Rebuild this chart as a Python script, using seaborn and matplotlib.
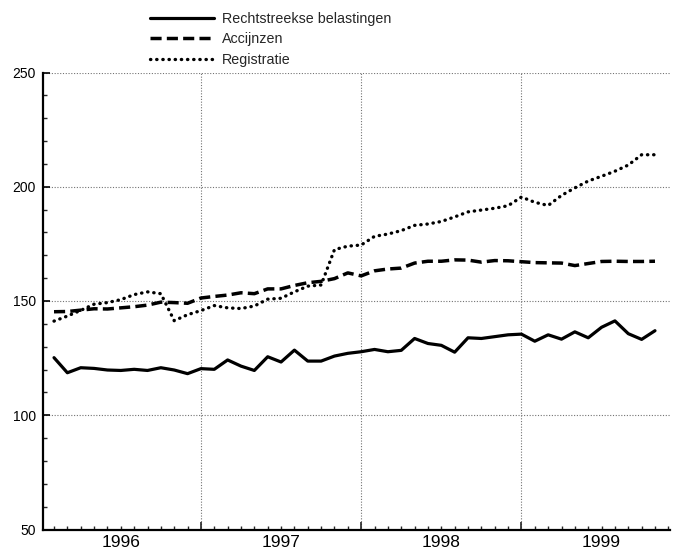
import numpy as np
import pandas as pd
import matplotlib
matplotlib.use('Agg')
import matplotlib.pyplot as plt
import seaborn as sns

sns.set_style('white')
plt.rcParams['font.family'] = ['Liberation Sans', 'DejaVu Sans']

# maandcijfers januari 1996 - oktober 1999
jaren = [1996, 1997, 1998, 1999]
maanden = np.arange(1, 47)  # 1 = januari 1996

rechtstreeks = [125.2, 118.6, 120.8, 120.5, 119.8, 119.6, 120.1, 119.6, 120.8, 119.8, 118.2, 120.4,
                120.1, 124.2, 121.5, 119.6, 125.6, 123.3, 128.5, 123.7, 123.7, 125.9, 127.1, 127.8,
                128.8, 127.8, 128.4, 133.6, 131.4, 130.6, 127.6, 133.9, 133.6, 134.4, 135.2, 135.5,
                132.4, 135.2, 133.3, 136.5, 133.9, 138.5, 141.3, 135.7, 133.2, 137.0]
accijnzen = [145.3, 145.4, 146.0, 146.6, 146.5, 147.0, 147.5, 148.2, 149.5, 149.3, 149.0, 151.3,
             152.0, 152.6, 153.6, 153.2, 155.3, 155.3, 156.8, 158.0, 158.6, 159.8, 162.3, 161.0,
             163.2, 164.0, 164.4, 166.6, 167.4, 167.4, 168.0, 167.9, 167.0, 167.7, 167.6, 167.2,
             166.8, 166.7, 166.6, 165.5, 166.4, 167.3, 167.4, 167.3, 167.3, 167.4]
registratie = [141.2, 143.4, 145.9, 148.6, 149.3, 150.6, 152.8, 154.0, 153.2, 141.4, 144.0, 145.8,
               148.0, 147.0, 146.7, 147.8, 150.8, 151.2, 154.0, 156.5, 157.0, 172.5, 174.0, 174.5,
               178.3, 179.3, 180.8, 183.1, 183.7, 184.8, 186.8, 189.0, 189.8, 190.6, 191.7, 195.5,
               193.2, 191.8, 196.2, 199.5, 202.5, 204.6, 206.8, 209.5, 214.0, 214.0]

df = pd.DataFrame({
    'x': 1996 + maanden / 12,
    'Rechtstreekse belastingen': rechtstreeks,
    'Accijnzen': accijnzen,
    'Registratie': registratie,
})

fig = plt.figure(figsize=(6.74, 5.49), dpi=100)
ax = fig.add_axes([43 / 674, 1 - 529.5 / 549, (670 - 43) / 674, 457 / 549])

sns.lineplot(data=df, x='x', y='Rechtstreekse belastingen', ax=ax, color='black',
             linewidth=2.3, label='Rechtstreekse belastingen')
sns.lineplot(data=df, x='x', y='Accijnzen', ax=ax, color='black', linewidth=2.5,
             linestyle=(0, (3.2, 1.5)), label='Accijnzen')
sns.lineplot(data=df, x='x', y='Registratie', ax=ax, color='black', linewidth=2.4,
             linestyle=(0, (0.1, 1.75)), dash_capstyle='round', label='Registratie')

ax.set_xlim(1996.0146, 1999.927)
ax.set_ylim(50, 250)
ax.set_xlabel('')
ax.set_ylabel('')

# assen
for s in ['top', 'right']:
    ax.spines[s].set_visible(False)
for s in ['left', 'bottom']:
    ax.spines[s].set_color('black')
    ax.spines[s].set_linewidth(1.6)

ax.set_yticks([50, 100, 150, 200, 250])
ax.set_yticks(np.arange(50, 251, 10), minor=True)
ax.set_xticks(jaren[1:])
ax.set_xticklabels([])
ax.set_xticks(1996 + np.arange(1, 48) / 12, minor=True)
ax.tick_params(axis='y', which='major', direction='in', length=5, width=1.2, pad=5,
               labelsize=10, colors='black', left=True)
ax.tick_params(axis='y', which='minor', direction='in', length=3, width=1.0, left=True)
ax.tick_params(axis='x', which='major', direction='in', length=6, width=1.2, bottom=True)
ax.tick_params(axis='x', which='minor', direction='in', length=3, width=1.0, bottom=True)

ax.grid(True, which='major', color='0.45', linestyle=(0, (1, 1.5)), linewidth=0.8)

for j in jaren:
    ax.text(j + 0.5, -0.012, str(j), transform=ax.get_xaxis_transform(),
            ha='center', va='top', fontsize=12.5, color='black')

h, l = ax.get_legend_handles_labels()
ax.legend(h, l, loc='upper left', bbox_to_anchor=(150 / 674, 1 - 12 / 549),
          bbox_transform=fig.transFigure, frameon=False, fontsize=10.3,
          handlelength=4.5, handletextpad=0.55, labelspacing=0.45, borderpad=0,
          borderaxespad=0)

plt.savefig('out.png', dpi=100)
plt.close()
